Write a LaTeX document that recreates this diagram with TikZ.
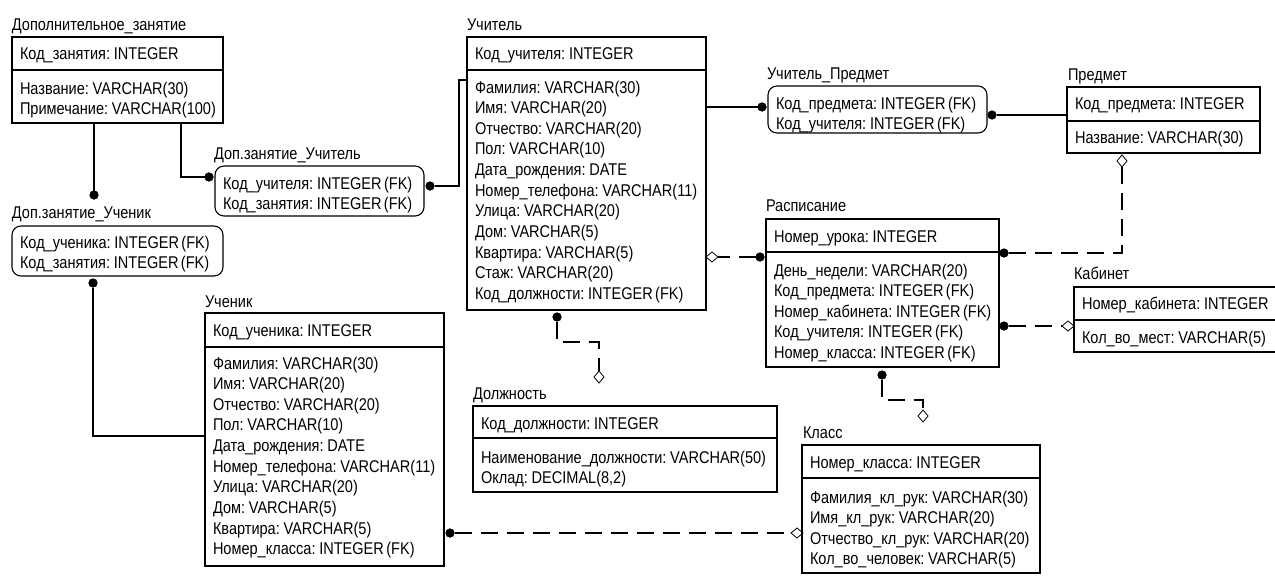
\documentclass[tikz,border=0pt]{standalone}
\usepackage{fontspec}
\setmainfont{Liberation Sans}[FakeStretch=0.855, WordSpace=0.6]
\usetikzlibrary{calc,shapes.geometric}

\tikzset{
  every node/.style={inner sep=0pt, outer sep=0pt},
  txt/.style={anchor=base west, font=\fontsize{17}{19}\selectfont},
  entbox/.style={draw, line width=1.1pt, anchor=north west},
  linkbox/.style={entbox, rounded corners=9pt},
  rel/.style={line width=1.1pt},
  optrel/.style={line width=1.1pt, dash pattern=on 17pt off 9pt},
  enddot/.style={circle, fill=black, minimum size=9pt},
  hdiam/.style={diamond, draw, fill=white, line width=0.8pt, minimum width=12pt, minimum height=10pt},
  vdiam/.style={diamond, draw, fill=white, line width=0.8pt, minimum width=10pt, minimum height=12pt},
}

% entity box: name, x1, y1, x2, y2 (y grows downwards)
\newcommand\entitybox[6][entbox]{%
  \node[#1, minimum width={(#5-#3)*1pt}, minimum height={(#6-#4)*1pt}] (#2) at (#3,#4) {};}
% key/attribute separator of a box: name, y
\newcommand\keyline[2]{%
  \draw[line width=1.1pt] (#1.west |- 0,#2) -- (#1.east |- 0,#2);}
% column of field texts: name prefix, x, first baseline, list of fields
\newcommand\fieldrows[4]{%
  \foreach \t [count=\i from 0] in {#4} {\node[txt] (#1-\i) at (#2, {#3+20.65*\i}) {\t};}}

\begin{document}
\begin{tikzpicture}[x=1pt,y=-1pt]
\useasboundingbox (0,0) rectangle (1275,576);
\fill[white] (0,0) rectangle (1275,576);

% ---------- connectors ----------
\coordinate (dz-b1) at (94,123);
\node[enddot] (dzu-top) at (94,195) {};
\draw[rel] (dz-b1) -- (dzu-top);

\coordinate (dz-b2) at (181,123);
\node[enddot] (dzt-left) at (209,177) {};
\draw[rel] (dz-b2) |- (dzt-left);

\node[enddot] (dzt-right) at (430,186) {};
\coordinate (t-left) at (467,80);
\draw[rel] (dzt-right) -- (459,186) |- (t-left);

\node[enddot] (dzu-bot) at (93,283) {};
\coordinate (s-left) at (205,436);
\draw[rel] (dzu-bot) |- (s-left);

\coordinate (t-right) at (706,107);
\node[enddot] (tp-left) at (762,107) {};
\draw[rel] (t-right) -- (tp-left);

\node[enddot] (tp-right) at (992,115) {};
\coordinate (p-left) at (1067,115);
\draw[rel] (tp-right) -- (p-left);

\node[vdiam] (p-dia) at (1122,161) {};
\node[enddot] (r-right1) at (1004,253) {};
\draw[optrel] (p-dia.south) |- (r-right1);

\node[hdiam] (t-dia) at (712,257) {};
\node[enddot] (r-left) at (760,257) {};
\draw[optrel] (r-left) -- (t-dia.east);

\node[enddot] (r-right2) at (1004,326) {};
\node[hdiam] (k-dia) at (1068,326) {};
\draw[optrel] (r-right2) -- (k-dia.west);

\node[enddot] (t-bot) at (557,317) {};
\node[vdiam] (d-dia) at (599,377) {};
\draw[optrel] (t-bot) -- (557,342) -| (d-dia.north);

\node[enddot] (r-bot) at (882,375) {};
\node[vdiam] (c-dia) at (923,416) {};
\draw[optrel] (r-bot) -- (882,400) -| (c-dia.north);

\node[enddot] (s-right) at (450,533) {};
\node[hdiam] (c-dia2) at (797,533) {};
\draw[optrel] (s-right) -- (c-dia2.west);

% redraw end markers above the lines
\foreach \n in {dzu-top,dzt-left,dzt-right,dzu-bot,tp-left,tp-right,r-right1,r-left,r-right2,t-bot,r-bot,s-right}
  \fill (\n) circle (4.5pt);

% ---------- Дополнительное_занятие ----------
\node[txt] (dz-title) at (12,30) {Дополнительное\_занятие};
\entitybox{dz}{12}{37}{223}{123}
\keyline{dz}{70}
\node[txt] (dz-key) at (20,59) {Код\_занятия: INTEGER};
\fieldrows{dz-f}{20}{94}{Название: VARCHAR(30), Примечание: VARCHAR(100)}

% ---------- Доп.занятие_Учитель ----------
\node[txt] (dzt-title) at (214,159) {Доп.занятие\_Учитель};
\entitybox[linkbox]{dzt}{215}{166}{424}{216}
\fieldrows{dzt-f}{223}{189}{Код\_учителя: INTEGER (FK), Код\_занятия: INTEGER (FK)}

% ---------- Доп.занятие_Ученик ----------
\node[txt] (dzu-title) at (12,218) {Доп.занятие\_Ученик};
\entitybox[linkbox]{dzu}{12}{226}{223}{276}
\fieldrows{dzu-f}{20}{248}{Код\_ученика: INTEGER (FK), Код\_занятия: INTEGER (FK)}

% ---------- Учитель ----------
\node[txt] (t-title) at (467,30) {Учитель};
\entitybox{t}{467}{37}{706}{310}
\keyline{t}{70}
\node[txt] (t-key) at (475,59) {Код\_учителя: INTEGER};
\fieldrows{t-f}{475}{93}{Фамилия: VARCHAR(30), Имя: VARCHAR(20), Отчество: VARCHAR(20),
  Пол: VARCHAR(10), Дата\_рождения: DATE, Номер\_телефона: VARCHAR(11), Улица: VARCHAR(20),
  Дом: VARCHAR(5), Квартира: VARCHAR(5), Стаж: VARCHAR(20), Код\_должности: INTEGER (FK)}

% ---------- Учитель_Предмет ----------
\node[txt] (tp-title) at (767,79) {Учитель\_Предмет};
\entitybox[linkbox]{tp}{768}{86}{987}{133}
\fieldrows{tp-f}{776}{109}{Код\_предмета: INTEGER (FK), Код\_учителя: INTEGER (FK)}

% ---------- Предмет ----------
\node[txt] (p-title) at (1068,80) {Предмет};
\entitybox{p}{1067}{87}{1260}{153}
\keyline{p}{121}
\node[txt] (p-key) at (1075,109) {Код\_предмета: INTEGER};
\fieldrows{p-f}{1075}{143}{Название: VARCHAR(30)}

% ---------- Расписание ----------
\node[txt] (r-title) at (766,211) {Расписание};
\entitybox{r}{766}{219}{999}{367}
\keyline{r}{252}
\node[txt] (r-key) at (774,242) {Номер\_урока: INTEGER};
\fieldrows{r-f}{774}{276}{День\_недели: VARCHAR(20), Код\_предмета: INTEGER (FK),
  Номер\_кабинета: INTEGER (FK), Код\_учителя: INTEGER (FK), Номер\_класса: INTEGER (FK)}

% ---------- Кабинет ----------
\node[txt] (k-title) at (1074,279) {Кабинет};
\entitybox{k}{1074}{287}{1285}{352}
\keyline{k}{320}
\node[txt] (k-key) at (1082,309) {Номер\_кабинета: INTEGER};
\fieldrows{k-f}{1082}{343}{Кол\_во\_мест: VARCHAR(5)}

% ---------- Ученик ----------
\node[txt] (s-title) at (205,307) {Ученик};
\entitybox{s}{205}{313}{444}{566}
\keyline{s}{347}
\node[txt] (s-key) at (213,336) {Код\_ученика: INTEGER};
\fieldrows{s-f}{213}{369}{Фамилия: VARCHAR(30), Имя: VARCHAR(20), Отчество: VARCHAR(20),
  Пол: VARCHAR(10), Дата\_рождения: DATE, Номер\_телефона: VARCHAR(11), Улица: VARCHAR(20),
  Дом: VARCHAR(5), Квартира: VARCHAR(5), Номер\_класса: INTEGER (FK)}

% ---------- Должность ----------
\node[txt] (d-title) at (473,399) {Должность};
\entitybox{d}{473}{406}{777}{492}
\keyline{d}{438}
\node[txt] (d-key) at (481,429) {Код\_должности: INTEGER};
\fieldrows{d-f}{481}{463}{Наименование\_должности: VARCHAR(50), {Оклад: DECIMAL(8,2)}}

% ---------- Класс ----------
\node[txt] (c-title) at (803,438) {Класс};
\entitybox{c}{802}{445}{1040}{573}
\keyline{c}{478}
\node[txt] (c-key) at (810,468) {Номер\_класса: INTEGER};
\fieldrows{c-f}{810}{503}{Фамилия\_кл\_рук: VARCHAR(30), Имя\_кл\_рук: VARCHAR(20),
  Отчество\_кл\_рук: VARCHAR(20), Кол\_во\_человек: VARCHAR(5)}
\end{tikzpicture}
\end{document}
